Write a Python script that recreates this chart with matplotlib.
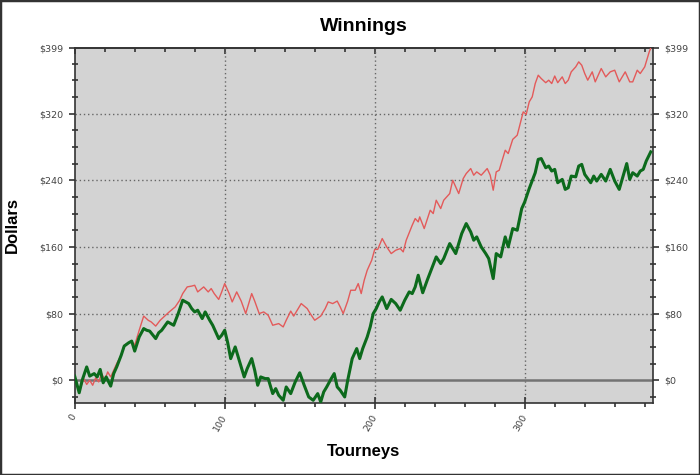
import matplotlib.pyplot as plt
from matplotlib.ticker import FixedLocator, MultipleLocator
from matplotlib.patches import Rectangle

# data (tourney number, dollars)
red_x = [0, 3, 6, 8, 10, 12, 14, 16, 18, 20, 22, 24, 26, 28, 31, 33, 36, 38, 40, 43,
         46, 49, 51, 54, 57, 60, 63, 67, 70, 72, 75, 78, 80, 82, 86, 89, 91, 93, 96, 98,
         100, 103, 105, 108, 111, 114, 118, 120, 123, 126, 129, 132, 136, 139, 141, 144, 146, 149, 151, 155,
         157, 160, 164, 167, 169, 172, 175, 177, 179, 182, 184, 187, 189, 191, 193, 195, 198, 200, 202, 205,
         208, 211, 214, 217, 219, 221, 225, 227, 229, 230, 233, 237, 239, 241, 244, 246, 250, 252, 256, 259,
         261, 264, 266, 268, 271, 275, 277, 279, 281, 283, 287, 289, 292, 295, 297, 299, 301, 303, 305, 307,
         309, 311, 314, 316, 318, 320, 322, 325, 327, 329, 331, 334, 336, 338, 340, 342, 345, 347, 349, 351,
         354, 357, 360, 363, 367, 370, 372, 375, 377, 380, 381, 383, 385]
red_y = [5, -14, 2, -5, 0, -6, 3, -2, 8, 0, 10, 4, 12, 20, 30, 42, 45, 47, 42, 60,
         77, 72, 70, 65, 72, 77, 82, 88, 96, 104, 112, 113, 114, 106, 112, 106, 110, 104, 97, 106,
         116, 104, 94, 106, 95, 80, 104, 95, 80, 82, 78, 66, 68, 64, 72, 83, 77, 86, 92, 86,
         80, 72, 77, 86, 94, 92, 95, 88, 80, 95, 108, 108, 116, 104, 120, 132, 144, 157, 157, 170,
         160, 152, 156, 158, 154, 168, 186, 194, 190, 196, 182, 204, 200, 216, 206, 216, 224, 240, 224, 242,
         248, 254, 246, 250, 246, 254, 246, 228, 250, 252, 276, 272, 289, 294, 308, 322, 319, 334, 340, 356,
         366, 362, 357, 360, 356, 365, 357, 364, 356, 360, 370, 376, 382, 378, 368, 360, 370, 358, 366, 374,
         364, 370, 372, 358, 370, 358, 358, 372, 368, 376, 382, 394, 403]

green_x = [0, 3, 5, 8, 10, 13, 15, 17, 19, 21, 24, 26, 28, 31, 33, 36, 38, 40, 43, 46,
           48, 50, 54, 56, 58, 62, 66, 69, 72, 76, 78, 80, 82, 85, 87, 90, 92, 94, 96, 98,
           100, 102, 104, 107, 110, 113, 115, 118, 120, 122, 124, 127, 129, 132, 134, 136, 139, 141, 144, 147,
           150, 153, 156, 159, 162, 164, 166, 168, 171, 173, 175, 177, 180, 182, 185, 188, 190, 192, 195, 197,
           199, 201, 203, 205, 208, 211, 214, 217, 220, 223, 225, 227, 229, 232, 235, 238, 241, 244, 246, 250,
           254, 258, 261, 264, 266, 268, 271, 274, 276, 279, 281, 284, 287, 289, 292, 295, 298, 300, 303, 307,
           309, 311, 314, 316, 318, 320, 322, 325, 327, 329, 331, 334, 336, 338, 340, 344, 346, 348, 351, 354,
           357, 360, 363, 368, 370, 372, 375, 377, 379, 381, 384]
green_y = [5, -15, 0, 16, 5, 8, 4, 13, -3, 4, -7, 8, 16, 30, 41, 45, 47, 35, 52, 62,
           60, 59, 50, 57, 60, 70, 66, 80, 96, 92, 86, 82, 84, 74, 82, 72, 66, 58, 50, 54,
           60, 45, 26, 40, 22, 4, 14, 26, 12, -6, 4, 2, 2, -16, -10, -18, -24, -8, -16, -2,
           9, -6, -20, -24, -16, -26, -14, -8, 2, 8, -8, -12, -20, 0, 26, 38, 26, 38, 52, 64,
           80, 86, 94, 100, 86, 97, 92, 84, 96, 106, 104, 112, 126, 105, 120, 134, 148, 140, 146, 164,
           152, 176, 188, 178, 168, 172, 160, 152, 146, 122, 152, 148, 172, 160, 182, 180, 206, 214, 230, 249,
           265, 266, 255, 257, 251, 253, 237, 241, 229, 231, 245, 244, 257, 259, 247, 237, 245, 239, 247, 239,
           253, 239, 229, 260, 241, 249, 245, 251, 253, 263, 274]

y_ticks = [0, 80, 160, 240, 320, 399]
y_labels = ["$0", "$80", "$160", "$240", "$320", "$399"]
x_ticks = [0, 100, 200, 300]

fig = plt.figure(figsize=(7, 4.75), dpi=100)
ax = fig.add_axes([0.1067, 0.151, 0.8257, 0.7486])
ax.set_facecolor("#d3d3d3")

# grid: dotted lines, solid line at zero
for y in y_ticks[1:-1]:
    ax.axhline(y, color="#666666", lw=1, ls=(0, (1, 2)), zorder=1)
for x in x_ticks[1:]:
    ax.axvline(x, color="#666666", lw=1, ls=(0, (1, 2)), zorder=1)
ax.axhline(0, color="#737373", lw=1.8, zorder=1)

ax.plot(red_x, red_y, color="#e35a5a", lw=1.0, zorder=3)
ax.plot(green_x, green_y, color="#0c6a1c", lw=2.2, zorder=4)

ax.set_xlim(0, 385.3)
ax.set_ylim(-27.6, 399)

ax.xaxis.set_major_locator(FixedLocator(x_ticks))
ax.xaxis.set_minor_locator(MultipleLocator(20))
ax.yaxis.set_major_locator(FixedLocator(y_ticks))
ax.yaxis.set_minor_locator(MultipleLocator(20))
ax.set_yticklabels(y_labels)
ax.set_xticklabels([str(x) for x in x_ticks], rotation=60, ha="right", va="center",
                   rotation_mode="anchor")

ax.tick_params(axis="y", which="major", direction="out", length=4.5, width=1.2, color="#333333",
               left=True, right=True, labelleft=True, labelright=True, pad=3.5,
               labelsize=6.8, labelcolor="#444444")
ax.tick_params(axis="y", which="minor", direction="inout", length=4, width=1.2, color="#333333",
               left=True, right=True)
ax.tick_params(axis="x", which="major", direction="inout", length=8.5, width=1.2, color="#333333",
               pad=4, labelsize=6.8, labelcolor="#444444")
ax.tick_params(axis="x", which="minor", direction="out", length=3, width=1.2, color="#333333")

top = ax.secondary_xaxis("top")
top.xaxis.set_major_locator(FixedLocator(x_ticks))
top.xaxis.set_minor_locator(MultipleLocator(20))
top.tick_params(which="major", direction="in", length=4, width=1.2, color="#333333", labeltop=False)
top.tick_params(which="minor", direction="in", length=3, width=1.2, color="#333333")
top.spines["top"].set_color("#333333")
top.spines["top"].set_linewidth(1.2)

for s in ax.spines.values():
    s.set_color("#333333")
    s.set_linewidth(1.2)

ax.set_title("Winnings", fontsize=14, fontweight="bold", family="Liberation Sans", pad=12)
ax.set_xlabel("Tourneys", fontsize=12, fontweight="bold", family="Liberation Sans", labelpad=8)
ax.set_ylabel("Dollars", fontsize=12, fontweight="bold", family="Liberation Sans", labelpad=14)

fig.patches.append(Rectangle((0, 0), 1, 1, transform=fig.transFigure, fill=False,
                             edgecolor="#333333", lw=2.5))

fig.savefig("out.png", dpi=100)
